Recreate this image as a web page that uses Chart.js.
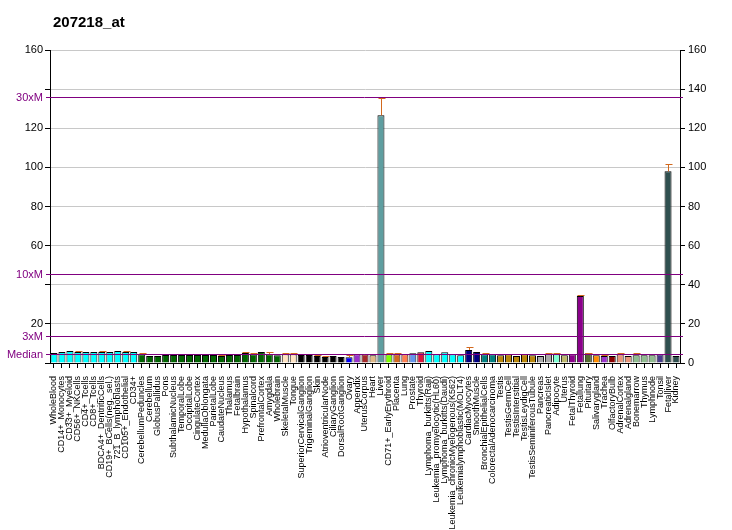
<!DOCTYPE html>
<html>
<head>
<meta charset="utf-8">
<script src="https://cdn.jsdelivr.net/npm/chart.js@4.4.1/dist/chart.umd.min.js"></script>
<style>
  body { margin: 0; background: #fff; }
  canvas { display: block; }
</style>
</head>
<body>
<canvas id="chart" width="732" height="530"></canvas>
<script>
const title = "207218_at";
const tissues = [
    "WholeBlood", "CD14+_Monocytes", "CD33+_Myeloid", "CD56+_NKCells", "CD4+_Tcells", "CD8+_Tcells",
    "BDCA4+_DentriticCells", "CD19+_BCells(neg._sel.)", "721_B_lymphoblasts", "CD105+_Endothelial", "CD34+",
    "CerebellumPeduncles", "Cerebellum", "GlobusPallidus", "Pons", "SubthalamicNucleus", "TemporalLobe",
    "OccipitalLobe", "CingulateCortex", "MedullaOblongata", "ParietalLobe", "CaudateNucleus", "Thalamus",
    "Fetalbrain", "Hypothalamus", "Spinalcord", "PrefrontalCortex", "Amygdala", "Wholebrain",
    "SkeletalMuscle", "Tongue", "SuperiorCervicalGanglion", "TrigeminalGanglion", "Skin",
    "AtrioventricularNode", "CiliaryGanglion", "DorsalRootGanglion", "Ovary", "Appendix", "UterusCorpus",
    "Heart", "Liver", "CD71+_EarlyErythroid", "Placenta", "Lung", "Prostate", "Thyroid",
    "Lymphoma_burkitts(Raji)", "Leukemia_promyelocytic(HL60)", "Lymphoma_burkitts(Daudi)",
    "Leukemia_chronicMyelogenous(K562)", "Leukemialymphoblastic(MOLT4)", "CardiacMyocytes", "SmoothMuscle",
    "BronchialEpithelialCells", "ColorectalAdenocarcinoma", "Testis", "TestisGermCell", "TestisInterstitial",
    "TestisLeydigCell", "TestisSeminiferousTubule", "Pancreas", "PancreaticIslet", "Adipocyte", "Uterus",
    "FetalThyroid", "Fetallung", "Pituitary", "Salivarygland", "Trachea", "OlfactoryBulb", "AdrenalCortex",
    "Adrenalgland", "Bonemarrow", "Thymus", "Lymphnode", "Tonsil", "Fetalliver", "Kidney"
];
const values = [
    5.1, 5.6, 6.1, 5.6, 5.6, 5.6, 5.6, 5.6, 6.1, 5.6, 5.6,
    4.5, 3.6, 3.6, 4.1, 4.1, 4.1, 4.1, 4.1, 4.1, 4.1, 3.6, 4.1, 4.1, 5.1, 4.5, 5.6, 4.5, 4.0,
    4.5, 4.5, 4.1, 4.1, 3.6, 3.1, 3.6, 3.1, 3.0, 4.5, 4.5, 4.0, 126.6, 4.5, 4.5, 4.5, 5.0, 5.5,
    6.1, 4.5, 5.5, 4.5, 4.0, 6.7, 5.6, 4.5, 4.5, 4.0, 4.5, 3.6, 4.5, 4.0, 3.6, 4.5, 4.5, 4.0,
    4.5, 34.2, 5.0, 4.0, 3.6, 3.6, 4.5, 3.6, 4.0, 4.0, 4.0, 4.5, 98.0, 3.6
];
// top of the error whisker, null where none is drawn
const errTop = [
    null, null, null, 6.2, null, null, 6.2, null, null, 6.2, null,
    5.2, null, null, null, null, null, null, null, null, null, 4.2, null, null, 5.6, 5.0, null, 5.7, null,
    5.0, 5.0, null, null, 4.1, 3.6, null, null, 4.1, null, null, null, 135.4, 5.0, 5.0, null, null, null,
    null, null, null, null, null, 8.0, null, 5.0, null, null, null, null, null, null, null, 5.1, 5.1, null,
    null, 34.6, 5.1, null, 4.1, null, 5.1, null, 5.1, null, null, null, 101.5, null
];
const barColors = [
    "#00FFFF", "#00FFFF", "#00FFFF", "#00FFFF", "#00FFFF", "#00FFFF", "#00FFFF", "#00FFFF", "#00FFFF", "#00FFFF", "#00FFFF",
    "#006400", "#006400", "#006400", "#006400", "#006400", "#006400", "#006400", "#006400", "#006400",
    "#006400", "#006400", "#006400", "#006400", "#006400", "#006400", "#006400", "#006400", "#006400",
    "#FFE4C4", "#FFE4C4", "#000000", "#000000", "#000000", "#000000", "#000000", "#000000",
    "#0000FF", "#9932CC", "#A52A2A", "#DEB887", "#5F9EA0", "#7FFF00", "#D2691E", "#FF7F50", "#6495ED", "#DC143C",
    "#00FFFF", "#00FFFF", "#00FFFF", "#00FFFF", "#00FFFF", "#000080", "#000080", "#008080", "#008080",
    "#B8860B", "#B8860B", "#B8860B", "#B8860B", "#B8860B", "#A9A9A9", "#A9A9A9", "#7FFFD4", "#BDB76B",
    "#8B008B", "#8B008B", "#556B2F", "#FF8C00", "#9932CC", "#8B0000", "#E9967A", "#E9967A",
    "#8FBC8F", "#8FBC8F", "#8FBC8F", "#483D8B", "#2F4F4F", "#2F4F4F"
];
const median = 4.54;
const lineNames = ["Median", "3xM", "10xM", "30xM"];
const lineFactors = [1, 3, 10, 30];
const hiddenLeftTicks = [0, 40, 140];

const FONT = '"Liberation Sans", Arial, sans-serif';
Chart.defaults.font.family = FONT;
Chart.defaults.color = "#000";

const extras = {
    id: "extras",
    afterDatasetsDraw(chart) {
        const ctx = chart.ctx;
        const x = chart.scales.x;
        const y = chart.scales.y;
        const area = chart.chartArea;
        ctx.save();
        // error whiskers
        ctx.strokeStyle = "#D2691E";
        ctx.lineWidth = 1;
        errTop.forEach((e, i) => {
            if (e == null) return;
            const cx = Math.round(x.getPixelForValue(i)) + 0.5;
            const y0 = y.getPixelForValue(values[i]);
            const y1 = Math.round(y.getPixelForValue(e)) + 0.5;
            ctx.beginPath();
            ctx.moveTo(cx, y0);
            ctx.lineTo(cx, y1);
            ctx.moveTo(cx - 3, y1);
            ctx.lineTo(cx + 4, y1);
            ctx.stroke();
        });
        // median lines
        ctx.strokeStyle = "#800080";
        ctx.fillStyle = "#800080";
        ctx.font = "11px " + FONT;
        ctx.textAlign = "right";
        ctx.textBaseline = "middle";
        lineNames.forEach((n, k) => {
            const py = Math.round(y.getPixelForValue(median * lineFactors[k])) + 0.5;
            ctx.beginPath();
            ctx.moveTo(area.left - 4, py);
            ctx.lineTo(area.right + 3, py);
            ctx.stroke();
            ctx.fillText(n, area.left - 7, py);
        });
        // title
        ctx.fillStyle = "#000";
        ctx.font = "bold 15px " + FONT;
        ctx.textAlign = "left";
        ctx.textBaseline = "alphabetic";
        ctx.fillText(title, 53, 27);
        ctx.restore();
    }
};

new Chart(document.getElementById("chart"), {
    type: "bar",
    data: {
        labels: tissues,
        datasets: [{
            data: values,
            backgroundColor: barColors,
            borderColor: "#000",
            borderWidth: 1,
            barPercentage: 0.88,
            categoryPercentage: 1.0
        }]
    },
    options: {
        responsive: false,
        animation: false,
        devicePixelRatio: 1,
        layout: { padding: { top: 50, left: 0, right: 0, bottom: 0 } },
        plugins: { legend: { display: false }, tooltip: { enabled: false } },
        scales: {
            x: {
                afterFit: s => { s.height = 167; },
                grid: { drawOnChartArea: false, offset: false, tickLength: 5, tickColor: "#000" },
                border: { color: "#000" },
                ticks: { autoSkip: false, minRotation: 90, maxRotation: 90, padding: 8, font: { size: 9 } }
            },
            y: {
                position: "left",
                min: 0, max: 160,
                afterFit: s => { s.width = 50; },
                grid: { color: "#C8C8C8", tickLength: 5, tickColor: "#000" },
                border: { color: "#000" },
                ticks: {
                    stepSize: 20, padding: 2, font: { size: 11 },
                    callback: v => hiddenLeftTicks.includes(v) ? "" : v
                }
            },
            y2: {
                position: "right",
                min: 0, max: 160,
                afterFit: s => { s.width = 52; },
                grid: { drawOnChartArea: false, tickLength: 5, tickColor: "#000" },
                border: { color: "#000" },
                ticks: { stepSize: 20, padding: 3, font: { size: 11 } }
            }
        }
    },
    plugins: [extras]
});
</script>
</body>
</html>
